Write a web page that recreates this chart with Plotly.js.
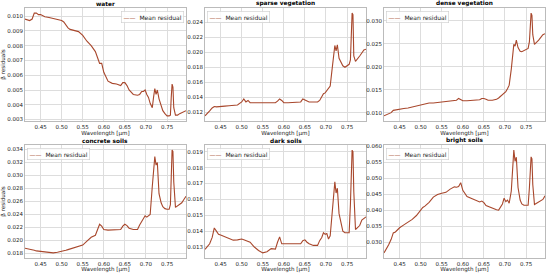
<!DOCTYPE html>
<html>
<head>
<meta charset="utf-8">
<script src="https://cdn.plot.ly/plotly-3.0.1.min.js"></script>
<style>
  body { margin: 0; background: white; }
  #chart { width: 550px; height: 273px; }
</style>
</head>
<body>
<div id="chart"></div>
<script>
// wavelengths in µm, shared by all six panels
let wavelength = [0.413, 0.418, 0.424, 0.43, 0.435, 0.44, 0.445, 0.45, 0.46, 0.47, 0.48, 0.49, 0.50, 0.505, 0.51, 0.515, 0.52, 0.53, 0.54, 0.55, 0.56, 0.57, 0.58, 0.585, 0.59, 0.595, 0.60, 0.61, 0.62, 0.63, 0.64, 0.645, 0.65, 0.655, 0.66, 0.67, 0.68, 0.685, 0.69, 0.694, 0.698, 0.702, 0.706, 0.71, 0.715, 0.718, 0.721, 0.724, 0.727, 0.731, 0.736, 0.74, 0.745, 0.75, 0.755, 0.758, 0.760, 0.762, 0.764, 0.766, 0.770, 0.775, 0.78, 0.785, 0.79, 0.795]

let water = [0.0098, 0.00975, 0.0097, 0.0098, 0.0102, 0.0102, 0.0101, 0.0101, 0.00995, 0.0099, 0.00985, 0.0098, 0.0097, 0.0096, 0.0094, 0.0092, 0.0091, 0.0090, 0.00895, 0.0087, 0.0083, 0.0080, 0.0076, 0.0072, 0.0068, 0.0068, 0.0062, 0.0056, 0.00545, 0.0054, 0.0053, 0.0055, 0.0055, 0.0053, 0.0050, 0.0047, 0.00465, 0.0047, 0.0049, 0.0049, 0.0050, 0.0047, 0.0045, 0.0041, 0.0038, 0.0045, 0.0051, 0.0047, 0.0050, 0.0044, 0.0039, 0.0036, 0.0034, 0.00325, 0.00325, 0.0033, 0.0045, 0.0054, 0.0052, 0.0038, 0.0033, 0.0033, 0.0034, 0.00345, 0.0035, 0.0036]

let sparseVeg = [0.01155, 0.0118, 0.0122, 0.0126, 0.0128, 0.01275, 0.0128, 0.0128, 0.01285, 0.0129, 0.0129, 0.0130, 0.0134, 0.0138, 0.0134, 0.0136, 0.0133, 0.0133, 0.0133, 0.0133, 0.01325, 0.0133, 0.0133, 0.0135, 0.0138, 0.0136, 0.0133, 0.0133, 0.0133, 0.0133, 0.0134, 0.0138, 0.0137, 0.0135, 0.0134, 0.0134, 0.0134, 0.0136, 0.0141, 0.0145, 0.0146, 0.0149, 0.0151, 0.0155, 0.0180, 0.0198, 0.0209, 0.0202, 0.0210, 0.0192, 0.0185, 0.0182, 0.0180, 0.0182, 0.0184, 0.0190, 0.0220, 0.0252, 0.0250, 0.0195, 0.0188, 0.0191, 0.0195, 0.0199, 0.0203, 0.0204]

let denseVeg = [0.0093, 0.0095, 0.0097, 0.0100, 0.0105, 0.0106, 0.0107, 0.0107, 0.0109, 0.0110, 0.0112, 0.0114, 0.0116, 0.0118, 0.0119, 0.0120, 0.0121, 0.0121, 0.0122, 0.0123, 0.0123, 0.0124, 0.0125, 0.0127, 0.0131, 0.0128, 0.0126, 0.0126, 0.0127, 0.0127, 0.0128, 0.0131, 0.0131, 0.0129, 0.0127, 0.0127, 0.0129, 0.0132, 0.0136, 0.0139, 0.0141, 0.0146, 0.0152, 0.0160, 0.0195, 0.0230, 0.0249, 0.0245, 0.0258, 0.0242, 0.0234, 0.0233, 0.0235, 0.0237, 0.0240, 0.0255, 0.0285, 0.0317, 0.0312, 0.0270, 0.0249, 0.0253, 0.0258, 0.0264, 0.0270, 0.0272]

let concreteSoils = [0.0188, 0.01875, 0.0187, 0.0186, 0.0185, 0.0184, 0.01835, 0.0183, 0.0182, 0.0181, 0.0181, 0.0182, 0.0183, 0.0184, 0.0185, 0.0186, 0.0187, 0.0189, 0.0191, 0.0193, 0.0199, 0.0205, 0.0208, 0.0218, 0.0225, 0.0222, 0.0217, 0.0216, 0.0216, 0.0216, 0.0217, 0.0222, 0.0225, 0.0223, 0.0219, 0.0217, 0.0217, 0.0224, 0.0229, 0.0235, 0.0238, 0.0236, 0.0238, 0.0240, 0.0283, 0.0315, 0.0329, 0.0316, 0.0320, 0.0272, 0.0258, 0.0252, 0.0249, 0.0248, 0.0248, 0.0255, 0.0290, 0.0339, 0.0337, 0.0290, 0.0251, 0.0253, 0.0255, 0.0258, 0.0263, 0.0268]

let darkSoils = [0.01285, 0.0130, 0.0132, 0.0136, 0.0142, 0.0140, 0.0138, 0.01375, 0.01365, 0.01352, 0.01343, 0.01345, 0.0135, 0.01345, 0.0134, 0.0134, 0.0133, 0.0130, 0.01278, 0.01263, 0.0127, 0.0129, 0.01287, 0.0133, 0.01364, 0.0132, 0.0132, 0.0132, 0.01318, 0.01318, 0.0132, 0.0134, 0.01345, 0.0133, 0.0132, 0.0131, 0.0131, 0.0134, 0.0136, 0.0139, 0.0138, 0.01385, 0.0135, 0.0137, 0.0152, 0.0163, 0.0171, 0.0164, 0.0167, 0.0151, 0.0144, 0.0140, 0.0139, 0.0139, 0.0139, 0.0157, 0.0175, 0.0191, 0.0190, 0.0165, 0.0141, 0.0142, 0.01435, 0.0147, 0.0148, 0.0149]

let brightSoils = [0.0268, 0.0278, 0.0293, 0.0310, 0.0330, 0.0333, 0.0340, 0.0346, 0.0355, 0.0364, 0.0372, 0.0384, 0.0402, 0.0409, 0.0413, 0.0418, 0.0425, 0.0441, 0.0449, 0.0453, 0.0456, 0.0466, 0.0473, 0.0472, 0.0474, 0.0486, 0.0462, 0.0443, 0.0437, 0.0430, 0.0426, 0.0429, 0.0424, 0.0415, 0.0412, 0.0407, 0.0402, 0.0401, 0.0412, 0.0420, 0.0438, 0.0427, 0.0432, 0.0422, 0.0460, 0.0545, 0.0587, 0.0552, 0.0565, 0.0471, 0.0432, 0.0420, 0.0416, 0.0416, 0.0416, 0.0470, 0.0530, 0.0566, 0.0560, 0.0480, 0.0418, 0.0422, 0.0426, 0.0430, 0.0434, 0.0445]

let titles = ['water', 'sparse vegetation', 'dense vegetation', 'concrete soils', 'dark soils', 'bright soils']
let yTickSteps = [0.001, 0.002, 0.005, 0.002, 0.001, 0.005]
let series = [water, sparseVeg, denseVeg, concreteSoils, darkSoils, brightSoils]

let lineColor = '#a8472c'
let colDomains = [[0, 0.3096], [0.3462, 0.6558], [0.6904, 1]]
let rowDomains = [[0.548, 1], [0, 0.452]]

let traces = []
let layout = {
  width: 550,
  height: 273,
  margin: {l: 25, r: 5, t: 8, b: 15},
  showlegend: false,
  paper_bgcolor: 'white',
  plot_bgcolor: 'white',
  font: {family: 'DejaVu Sans', size: 5.5, color: '#222'},
  annotations: []
}

series.forEach(function (vals, i) {
  let s = i === 0 ? '' : String(i + 1)
  traces.push({
    x: wavelength,
    y: vals,
    xaxis: 'x' + s,
    yaxis: 'y' + s,
    type: 'scatter',
    mode: 'lines',
    name: 'Mean residual',
    line: {color: lineColor, width: 1.1}
  })
  let lo = Math.min(...vals)
  let hi = Math.max(...vals)
  let pad = (hi - lo) * 0.05
  layout['xaxis' + s] = {
    domain: colDomains[i % 3],
    anchor: 'y' + s,
    range: [wavelength[0], wavelength[wavelength.length - 1]],
    tick0: 0.45,
    dtick: 0.05,
    tickformat: '.2f',
    ticks: '',
    tickfont: {size: 5.5},
    showgrid: true,
    gridcolor: '#dddddd',
    gridwidth: 1,
    zeroline: false,
    showline: true,
    mirror: true,
    linecolor: '#bbbbbb',
    linewidth: 1,
    automargin: false,
    title: {text: 'Wavelength [µm]', font: {size: 5.6}, standoff: 0}
  }
  layout['yaxis' + s] = {
    domain: rowDomains[Math.floor(i / 3)],
    anchor: 'x' + s,
    range: [lo - pad, hi + pad],
    tick0: 0,
    dtick: yTickSteps[i],
    tickformat: '.3f',
    ticks: '',
    tickfont: {size: 5.5},
    showgrid: true,
    gridcolor: '#dddddd',
    gridwidth: 1,
    zeroline: false,
    showline: true,
    mirror: true,
    linecolor: '#bbbbbb',
    linewidth: 1,
    automargin: false
  }
  if (i % 3 === 0) {
    layout['yaxis' + s].title = {text: 'β residuals', font: {size: 5.6}, standoff: 1}
  }
  // subplot title
  layout.annotations.push({
    text: '<b>' + titles[i] + '</b>',
    xref: 'x' + s + ' domain',
    yref: 'y' + s + ' domain',
    x: 0.5,
    y: 1,
    xanchor: 'center',
    yanchor: 'bottom',
    showarrow: false,
    borderpad: 0,
    font: {size: 5.8, color: '#000'}
  })
  // legend box
  let right = i === 0
  layout.annotations.push({
    text: '<span style="color:' + lineColor + '">——</span>  Mean residual',
    xref: 'x' + s + ' domain',
    yref: 'y' + s + ' domain',
    x: right ? 0.99 : 0.012,
    y: 0.975,
    xanchor: right ? 'right' : 'left',
    yanchor: 'top',
    showarrow: false,
    align: 'left',
    bgcolor: 'rgba(255,255,255,0.85)',
    bordercolor: '#cccccc',
    borderwidth: 0.6,
    borderpad: 2,
    font: {size: 6, color: '#222'}
  })
})

Plotly.newPlot('chart', traces, layout, {staticPlot: true, displayModeBar: false})
</script>
</body>
</html>
